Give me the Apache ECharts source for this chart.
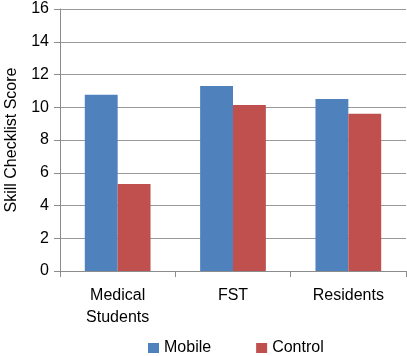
<!DOCTYPE html>
<html>
<head>
<meta charset="utf-8">
<script src="https://cdn.jsdelivr.net/npm/echarts@6/dist/echarts.min.js"></script>
<style>html,body{margin:0;padding:0;background:#fff;}#c{width:407px;height:356px;}</style>
</head>
<body>
<div id="c"></div>
<script>
const categories = ['Medical\nStudents', 'FST', 'Residents'];
const mobile = [10.77, 11.3, 10.5];
const control = [5.31, 10.13, 9.6];
const yTicks = [0, 2, 4, 6, 8, 10, 12, 14, 16];

const chart = echarts.init(document.getElementById('c'), null, {renderer: 'canvas'});
const font = 'Liberation Sans, Arial, Helvetica, sans-serif';
chart.setOption({
  animation: false,
  textStyle: {fontFamily: font},
  grid: {left: 60, right: 1, top: 9, bottom: 85, containLabel: false, outerBoundsMode: 'none'},
  legend: {
    data: ['Mobile', 'Control'],
    left: 148, top: 340,
    itemWidth: 11, itemHeight: 10, itemGap: 45,
    icon: 'rect',
    textStyle: {fontSize: 16, color: '#000', fontFamily: font, padding: [0, 0, 0, 0]},
    padding: 0
  },
  xAxis: {
    type: 'category',
    data: categories,
    axisLine: {lineStyle: {color: '#8c8c8c', width: 1}},
    axisTick: {show: true, length: 6, lineStyle: {color: '#8c8c8c'}},
    axisLabel: {fontSize: 16, color: '#000', margin: 14, lineHeight: 22, fontFamily: font}
  },
  yAxis: {
    type: 'value',
    min: yTicks[0], max: yTicks[yTicks.length - 1], interval: 2,
    name: 'Skill Checklist Score',
    nameLocation: 'middle',
    nameGap: 40,
    nameTextStyle: {fontSize: 16, color: '#000', fontFamily: font},
    axisLine: {show: true, lineStyle: {color: '#8c8c8c', width: 1}},
    axisTick: {show: true, length: 6, lineStyle: {color: '#8c8c8c'}},
    axisLabel: {fontSize: 16, color: '#000', margin: 11, fontFamily: font},
    splitLine: {lineStyle: {color: '#999', width: 1}}
  },
  series: [
    {name: 'Mobile', type: 'bar', data: mobile, barGap: '0%', barCategoryGap: '43%',
     itemStyle: {color: '#4f81bd'}},
    {name: 'Control', type: 'bar', data: control, barGap: '0%', barCategoryGap: '43%',
     itemStyle: {color: '#c0504d'}}
  ]
});
</script>
</body>
</html>
